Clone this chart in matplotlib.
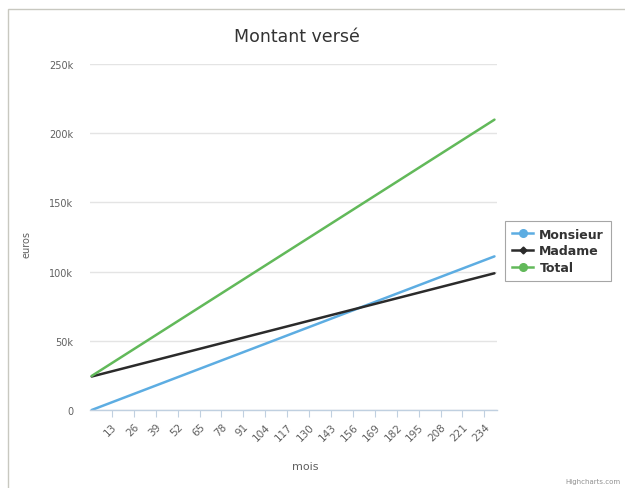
import matplotlib
matplotlib.use("Agg")
from matplotlib import pyplot as plt
from matplotlib.lines import Line2D
from matplotlib.patches import Rectangle

# cumulative amounts paid (euros), first and last month
months = [1, 240]
monsieur = [0, 111000]
madame = [24200, 98800]
total = [24600, 209800]

xticks = [13, 26, 39, 52, 65, 78, 91, 104, 117, 130, 143, 156, 169, 182, 195, 208, 221, 234]
yticks = [0, 50000, 100000, 150000, 200000, 250000]
ylabels = ["0", "50k", "100k", "150k", "200k", "250k"]

c_blue = "#5dade2"
c_dark = "#2b2b2b"
c_green = "#62b95a"

fig = plt.figure(figsize=(6.25, 4.89), dpi=100)
W, H = 625, 489

# outer frame of the chart container
fig.patches.append(Rectangle((8 / W, -0.1), 1.2, 1 - 10 / H + 0.1, transform=fig.transFigure,
                             fill=False, edgecolor="#c8c8c0", linewidth=1.0))

ax = fig.add_axes([90 / W, (H - 411) / H, (497 - 90) / W, (411 - 65) / H])
ax.plot(months, monsieur, color=c_blue, lw=1.8, solid_capstyle="round")
ax.plot(months, madame, color=c_dark, lw=1.8, solid_capstyle="round")
ax.plot(months, total, color=c_green, lw=1.8, solid_capstyle="round")

ax.set_xlim(0, 241.5)
ax.set_ylim(0, 250000)
ax.set_yticks(yticks)
ax.set_yticklabels(ylabels, fontsize=7, color="#606060")
ax.set_xticks(xticks)
ax.set_xticklabels([str(t) for t in xticks], rotation=45, ha="right", va="top",
                   rotation_mode="anchor", fontsize=7.5, color="#606060")
ax.tick_params(axis="y", length=0, pad=12)
ax.tick_params(axis="x", length=5, color="#c0d0e0", pad=3)
ax.grid(axis="y", color="#e4e4e4", linewidth=1)
ax.set_axisbelow(True)
for s in ["top", "right", "left"]:
    ax.spines[s].set_visible(False)
ax.spines["bottom"].set_color("#c0d0e0")
ax.spines["bottom"].set_linewidth(1)

fig.text(297 / W, 1 - 37 / H, "Montant versé", ha="center", va="center",
         fontsize=12.5, color="#333333", weight="medium")
fig.text(27 / W, 1 - 245 / H, "euros", rotation=90, ha="center", va="center",
         fontsize=7, color="#606060")
fig.text(305 / W, 1 - 467 / H, "mois", ha="center", va="center",
         fontsize=8, color="#606060")
fig.text(621 / W, 1 - 482 / H, "Highcharts.com", ha="right", va="center",
         fontsize=5, color="#909090")

handles = [
    Line2D([], [], color=c_blue, lw=1.8, marker="o", markersize=5.5),
    Line2D([], [], color=c_dark, lw=1.8, marker="D", markersize=3.5),
    Line2D([], [], color=c_green, lw=1.8, marker="o", markersize=5.5),
]
leg = fig.legend(handles, ["Monsieur", "Madame", "Total"], loc="center left",
                 bbox_to_anchor=(505 / W, 1 - 252 / H), frameon=True, fancybox=False,
                 prop={"weight": "bold", "size": 9}, handlelength=1.7, handletextpad=0.5,
                 labelspacing=0.3, borderpad=0.55, borderaxespad=0,
                 labelcolor="#333333")
leg.get_frame().set_edgecolor("#909090")
leg.get_frame().set_linewidth(0.8)

fig.savefig("out.png", dpi=100)
